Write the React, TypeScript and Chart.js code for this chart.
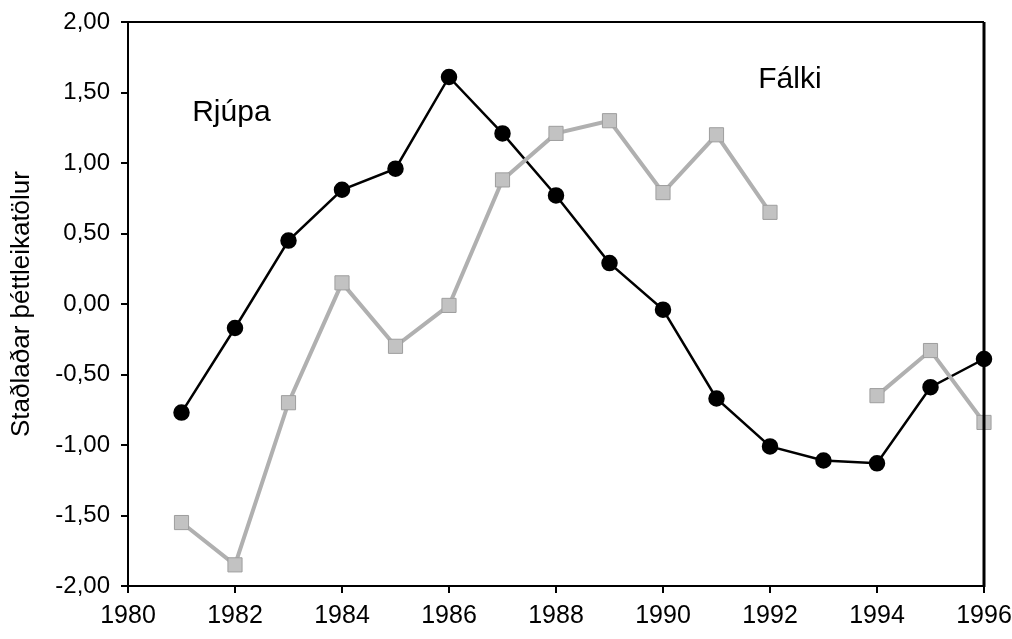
import React, { useEffect, useRef } from "react";
import { Chart, registerables } from "chart.js";

Chart.register(...registerables);

const years = [1981, 1982, 1983, 1984, 1985, 1986, 1987, 1988, 1989, 1990, 1991, 1992, 1993, 1994, 1995, 1996];
const rjupa = [-0.77, -0.17, 0.45, 0.81, 0.96, 1.61, 1.21, 0.77, 0.29, -0.04, -0.67, -1.01, -1.11, -1.13, -0.59, -0.39];
const falki = [-1.55, -1.85, -0.7, 0.15, -0.3, -0.01, 0.88, 1.21, 1.3, 0.79, 1.2, 0.65, null, -0.65, -0.33, -0.84];
const seriesNames = ["Rjúpa", "Fálki"];
const yTitle = "Staðlaðar þéttleikatölur";
const xMin = 1980;
const xMax = 1996;
const yMin = -2;
const yMax = 2;

const FONT = "'Liberation Sans', Arial, sans-serif";

const frameAndLabels = {
  id: "frameAndLabels",
  afterDatasetsDraw(chart: any) {
    const { ctx, chartArea } = chart;
    const { left, right, top, bottom } = chartArea;
    ctx.save();
    ctx.strokeStyle = "#000";
    ctx.lineWidth = 2;
    ctx.beginPath();
    ctx.moveTo(left - 1, top);
    ctx.lineTo(right, top);
    ctx.stroke();
    ctx.lineWidth = 3;
    ctx.beginPath();
    ctx.moveTo(right, top);
    ctx.lineTo(right, bottom + 1);
    ctx.stroke();

    const xs = chart.scales.x;
    const ys = chart.scales.y;
    ctx.fillStyle = "#000";
    ctx.font = `30px ${FONT}`;
    ctx.textAlign = "left";
    ctx.textBaseline = "middle";
    ctx.fillText(seriesNames[0], xs.getPixelForValue(1981.2), ys.getPixelForValue(1.36));
    ctx.fillText(seriesNames[1], xs.getPixelForValue(1991.78), ys.getPixelForValue(1.59));
    ctx.restore();
  },
};

export default function App() {
  const ref = useRef<HTMLCanvasElement>(null);
  useEffect(() => {
    if (!ref.current) return;
    const chart = new Chart(ref.current, {
      type: "line",
      data: {
        datasets: [
          {
            label: seriesNames[1],
            data: years.map((x, i) => ({ x, y: falki[i] })) as any,
            borderColor: "#b0b0b0",
            borderWidth: 4,
            pointStyle: "rect",
            pointRadius: 10,
            pointBackgroundColor: "#c2c2c2",
            pointBorderColor: "#9e9e9e",
            pointBorderWidth: 1,
            spanGaps: false,
            clip: false as any,
          },
          {
            label: seriesNames[0],
            data: years.map((x, i) => ({ x, y: rjupa[i] })) as any,
            borderColor: "#000",
            borderWidth: 2.5,
            pointStyle: "circle",
            pointRadius: 7,
            pointBackgroundColor: "#000",
            pointBorderColor: "#000",
            clip: false as any,
          },
        ],
      },
      options: {
        responsive: false,
        animation: false,
        layout: { padding: { top: 22, right: 28, left: 0, bottom: 0 } },
        plugins: {
          legend: { display: false },
          tooltip: { enabled: false },
        },
        scales: {
          x: {
            type: "linear",
            min: xMin,
            max: xMax,
            afterFit: (s: any) => {
              s.height = 53;
              s.paddingLeft = 0;
              s.paddingRight = 0;
            },
            ticks: {
              stepSize: 2,
              color: "#000",
              font: { family: FONT, size: 25 },
              padding: 8,
              maxRotation: 0,
              callback: (v: any) => String(v),
            },
            grid: { drawOnChartArea: false, drawTicks: true, tickLength: 7, color: "#000", lineWidth: 2 },
            border: { display: true, color: "#000", width: 2 },
          },
          y: {
            type: "linear",
            min: yMin,
            max: yMax,
            afterFit: (s: any) => {
              s.width = 128;
              s.paddingTop = 0;
              s.paddingBottom = 0;
            },
            ticks: {
              stepSize: 0.5,
              color: "#000",
              font: { family: FONT, size: 24 },
              padding: 11,
              callback: (v: any) => Number(v).toFixed(2).replace(".", ","),
            },
            grid: { drawOnChartArea: false, drawTicks: true, tickLength: 7, color: "#000", lineWidth: 2 },
            border: { display: true, color: "#000", width: 2 },
            title: {
              display: true,
              text: yTitle,
              color: "#000",
              font: { family: FONT, size: 26 },
              padding: { top: 6, bottom: 0 },
            },
          },
        },
      },
      plugins: [frameAndLabels],
    });
    return () => chart.destroy();
  }, []);
  return (
    <div style={{ position: "absolute", left: 0, top: 0, width: 1012, height: 639, background: "#fff" }}>
      <canvas ref={ref} width={1012} height={639} />
    </div>
  );
}
